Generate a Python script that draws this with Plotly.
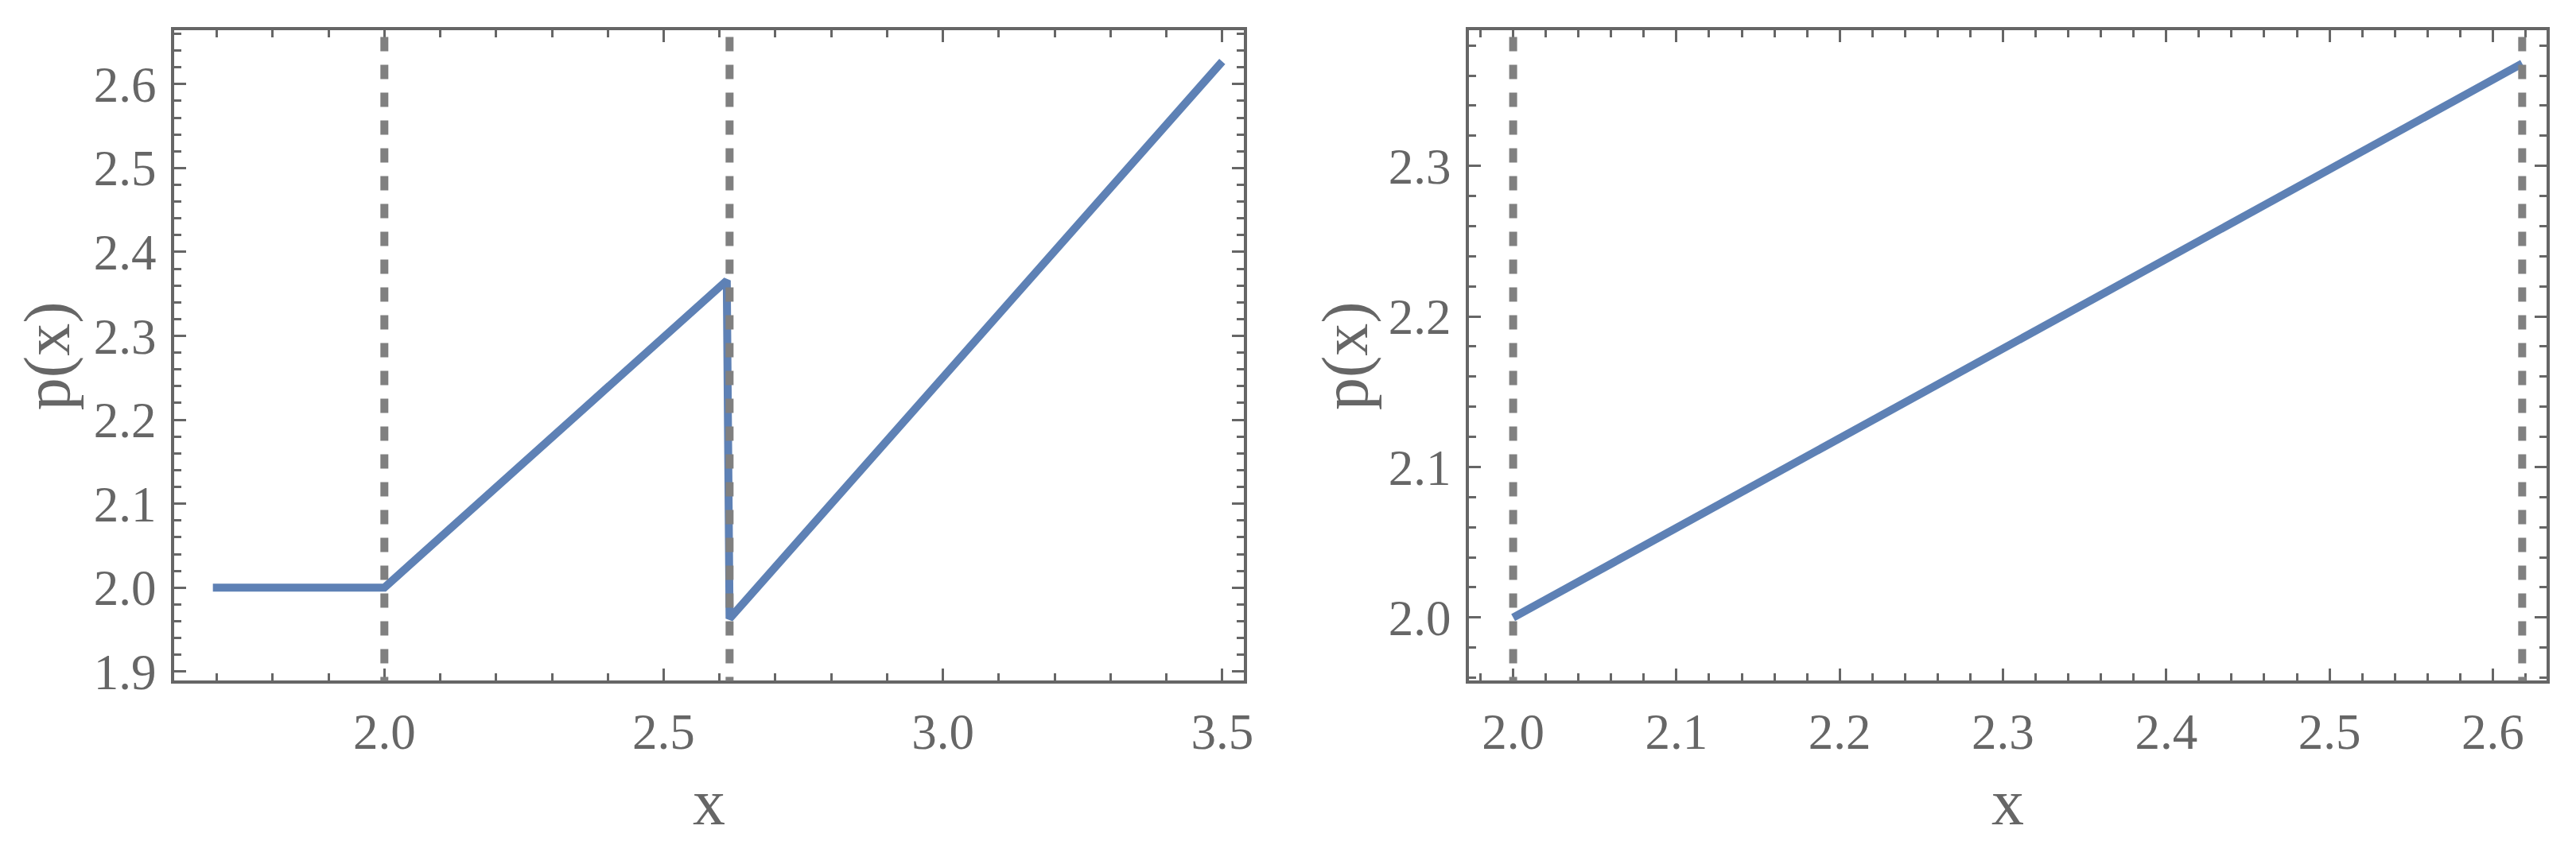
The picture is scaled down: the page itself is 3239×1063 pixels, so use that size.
import plotly.graph_objects as go

# left panel: p(x) over the whole range, with the jump at x = 1 + phi
left_x = [1.693, 2.0, 2.613, 2.618, 3.5]
left_y = [2.0, 2.0, 2.366, 1.963, 2.627]

# right panel: zoom on the interval between the two dashed lines
right_x = [2.0, 2.618]
right_y = [2.0, 2.368]

marks = [2.0, 2.618]

left_xticks = [2.0, 2.5, 3.0, 3.5]
left_yticks = [1.9, 2.0, 2.1, 2.2, 2.3, 2.4, 2.5, 2.6]
right_xticks = [2.0, 2.1, 2.2, 2.3, 2.4, 2.5, 2.6]
right_yticks = [2.0, 2.1, 2.2, 2.3]

W, H = 3239, 1063
blue = "#5e81b5"
frame = "#666666"
font = "Liberation Serif, Times New Roman, serif"

fig = go.Figure()
fig.add_trace(go.Scatter(x=left_x, y=left_y, mode="lines",
                         line=dict(color=blue, width=10), xaxis="x", yaxis="y"))
fig.add_trace(go.Scatter(x=right_x, y=right_y, mode="lines",
                         line=dict(color=blue, width=10), xaxis="x2", yaxis="y2"))

# vertical dashed lines, drawn over the curve
for xr, yr in [("x", "y"), ("x2", "y2")]:
    for m in marks:
        fig.add_shape(type="line", xref=xr, yref=yr + " domain", x0=m, x1=m, y0=0.99, y1=0.0,
                      line=dict(color="#808080", width=10, dash="18px,17px"))


def axis(domain, rng, ticks, minor, anchor):
    return dict(
        domain=domain, range=rng, anchor=anchor,
        tickvals=ticks, tickformat=".1f",
        ticks="inside", ticklen=15, tickwidth=3, tickcolor=frame,
        minor=dict(dtick=minor, tick0=0, ticks="inside", ticklen=9, tickwidth=3, tickcolor=frame),
        showline=True, linecolor=frame, linewidth=4, mirror="ticks",
        showgrid=False, zeroline=False,
        tickfont=dict(family=font, size=63, color=frame),
        ticklabelstandoff=6,
    )


ydom = [1 - 868 / H, 1 - 31 / H]
left_dom = [212 / W, 1562 / W]
right_dom = [1846 / W, 3206 / W]
fig.update_layout(
    width=W, height=H,
    margin=dict(l=0, r=0, t=0, b=0),
    plot_bgcolor="white", paper_bgcolor="white",
    showlegend=False,
    xaxis=axis(left_dom, [1.624, 3.539], left_xticks, 0.1, "y"),
    yaxis=axis(ydom, [1.889, 2.664], left_yticks, 0.02, "x"),
    xaxis2=axis(right_dom, [1.973, 2.633], right_xticks, 0.02, "y2"),
    yaxis2=axis(ydom, [1.958, 2.390], right_yticks, 0.02, "x2"),
)

# axis labels
title_font = dict(family=font, size=82, color=frame)
for dom, px in [(left_dom, 52), (right_dom, 1690)]:
    fig.add_annotation(text="x", xref="paper", yref="paper", x=sum(dom) / 2, y=1 - 1025 / H,
                       xanchor="center", yanchor="middle", showarrow=False, font=title_font)
    fig.add_annotation(text="p(x)", xref="paper", yref="paper", x=px / W, y=sum(ydom) / 2,
                       xanchor="center", yanchor="middle", textangle=-90, showarrow=False,
                       font=title_font)

fig.write_html("out.html")
